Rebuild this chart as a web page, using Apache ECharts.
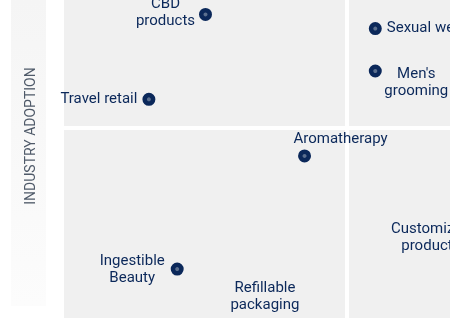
<!DOCTYPE html>
<html>
<head>
<meta charset="utf-8">
<style>html,body{margin:0;padding:0;background:#fff;}#c{width:450px;height:318px;}</style>
<script src="https://cdn.jsdelivr.net/npm/echarts@6/dist/echarts.min.js"></script>
</head>
<body>
<div id="c"></div>
<script>
// ---- data ----
var names = ["CBD\nproducts", "Travel retail", "Sexual wellness", "Men's\ngrooming", "Aromatherapy", "Ingestible\nBeauty", "Refillable\npackaging", "Customized\nproducts"];
var marketPotential = [2.5, 1.5, 5.5, 5.5, 4.25, 2.0, 3.55, 7.4];
var industryAdoption = [7.0, 5.5, 6.75, 6.0, 4.5, 2.5, 1.5, 3.0];
var axisTitle = "INDUSTRY ADOPTION";
var quadrantSplit = 5;
// visible window of the (cropped) quadrant chart
var xRange = [0, 6.82];
var yRange = [1.636, 7.255];

// ---- label placement (style) ----
var labelStyles = [
  {position: 'inside', offset: [-40, -2]},
  {position: 'left', distance: 5},
  {position: 'right', distance: 5},
  {position: 'inside', offset: [41, 12]},
  {position: 'top', distance: 2, offset: [36, 0]},
  {position: 'inside', offset: [-45, 0.5]},
  {position: 'top', distance: 5},
  {position: 'inside', offset: [-52, -3.5]}
];

var navy = '#0b285a';
var seriesData = names.map(function (n, i) {
  return {
    name: n,
    value: [marketPotential[i], industryAdoption[i]],
    label: Object.assign({show: true, formatter: n}, labelStyles[i])
  };
});

var chart = echarts.init(document.getElementById('c'), null, {renderer: 'canvas'});
chart.setOption({
  animation: false,
  backgroundColor: '#ffffff',
  grid: {left: 64, right: 0, top: 0, bottom: 0, show: true, backgroundColor: '#f0f0f0', borderWidth: 0},
  xAxis: {type: 'value', min: xRange[0], max: xRange[1], show: false},
  yAxis: {type: 'value', min: yRange[0], max: yRange[1], show: false},
  graphic: [
    {type: 'rect', left: 11, top: 0, shape: {width: 35, height: 306}, z: -1,
     style: {fill: new echarts.graphic.LinearGradient(0, 0, 0, 1, [{offset: 0, color: '#f5f5f5'}, {offset: 1, color: '#fcfcfc'}])}},
    {type: 'text', x: 31, y: 136, rotation: Math.PI / 2, z: 10,
     style: {text: axisTitle, fill: '#4f5a69', font: '14px Roboto', align: 'center', verticalAlign: 'middle'}}
  ],
  series: [{
    type: 'scatter',
    z: 1,
    data: [],
    markLine: {
      silent: true,
      z: 1,
      symbol: 'none',
      label: {show: false},
      lineStyle: {color: '#ffffff', width: 4, type: 'solid'},
      data: [{xAxis: quadrantSplit}, {yAxis: quadrantSplit}]
    }
  }, {
    type: 'scatter',
    z: 5,
    clip: false,
    symbol: 'circle',
    symbolSize: 8.5,
    itemStyle: {color: '#5b6f8e', borderColor: navy, borderWidth: 4.5, opacity: 1},
    label: {color: navy, fontFamily: 'Roboto', fontSize: 15, lineHeight: 17},
    data: seriesData
  }]
});
</script>
</body>
</html>
